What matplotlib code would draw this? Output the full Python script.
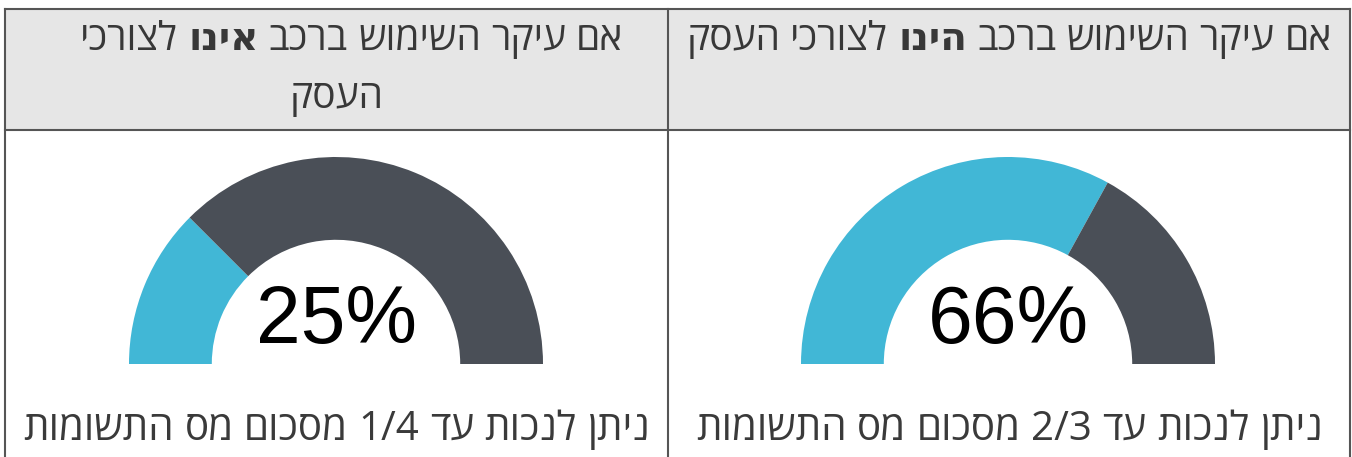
import matplotlib
matplotlib.use('Agg')
import matplotlib.pyplot as plt
from matplotlib.patches import Rectangle

# table content, columns in left-to-right order as seen on the page
head_pre = ["אם עיקר השימוש ברכב", "אם עיקר השימוש ברכב"]
head_bold = ["אינו", "הינו"]
head_post = ["לצורכי העסק", "לצורכי העסק"]
percent = [25, 66]
fraction = ["1/4", "2/3"]
foot_text = "ניתן לנכות עד {} מסכום מס התשומות"

BLUE = '#41b7d6'
DARK = '#4a4f57'
HEAD_BG = '#e6e6e6'
BORDER = '#555555'
TXT = '#383838'

W, H = 1352, 457
fig = plt.figure(figsize=(W / 100, H / 100), dpi=100)
ax = fig.add_axes([0, 0, 1, 1])
ax.set_xlim(0, W)
ax.set_ylim(H, 0)
ax.axis('off')
renderer = fig.canvas.get_renderer()

# table frame (pixel coords)
left, right, top, mid, hbot = 5, 1350, 9, 668, 130
ax.add_patch(Rectangle((left, top), right - left, hbot - top, facecolor=HEAD_BG, edgecolor='none'))
ax.plot([left, right], [top, top], color=BORDER, lw=1.5)
ax.plot([left, right], [hbot, hbot], color=BORDER, lw=1.5)
for xx in (left, mid, right):
    ax.plot([xx, xx], [top, H], color=BORDER, lw=1.5)

cell_c = [(left + mid) / 2, (mid + right) / 2]
max_w = [600, 660]


def is_heb(s):
    return any('\u0590' <= c <= '\u05ff' for c in s)


def vis(word):
    # matplotlib has no bidi support: flip hebrew words by hand
    return word[::-1] if is_heb(word) else word


def width(word, size, family, bold):
    t = ax.text(0, 0, vis(word), fontsize=size, family=family,
                fontweight='bold' if bold else 'normal')
    w = t.get_window_extent(renderer).width
    t.remove()
    return w


def rtl_lines(words, xc, y0, lh, size, color, family, maxw):
    space = 0.26 * size * 100 / 72
    ws = [width(w, size, family, b) for w, b in words]
    lines, cur, cw = [], [], 0
    for (w, b), wd in zip(words, ws):
        add = wd if not cur else wd + space
        if cur and cw + add > maxw:
            lines.append(cur)
            cur, cw = [], 0
            add = wd
        cur.append((w, b, wd))
        cw += add
    lines.append(cur)
    for k, line in enumerate(lines):
        total = sum(l[2] for l in line) + space * (len(line) - 1)
        if k < len(lines) - 1:
            total += 3 * space   # wrapped line keeps its trailing space on the left
        x = xc + total / 2
        for w, b, wd in line:
            ax.text(x, y0 + k * lh, vis(w), ha='right', va='baseline', fontsize=size,
                    family=family, color=color, fontweight='bold' if b else 'normal')
            x -= wd + space


fam = ['Open Sans', 'DejaVu Sans']
for i in range(2):
    words = [(w, False) for w in head_pre[i].split()] + [(head_bold[i], True)] + \
            [(w, False) for w in head_post[i].split()]
    rtl_lines(words, cell_c[i], 50, 58, 28, TXT, fam, max_w[i])

    foot_words = [(w, False) for w in foot_text.format(fraction[i]).split()]
    rtl_lines(foot_words, cell_c[i], 440, 40, 29, '#3a3a3a', fam, 2000)

# gauges
gauge_cx = [336, 1008]
cy, r = 364, 207
for i, p in enumerate(percent):
    cx = gauge_cx[i]
    gax = fig.add_axes([(cx - r) / W, (H - cy - r) / H, 2 * r / W, 2 * r / H])
    gax.pie([p, 100 - p, 100], colors=[BLUE, DARK, 'none'], startangle=180,
            counterclock=False, radius=1, wedgeprops=dict(width=0.4, linewidth=0))
    gax.set_xlim(-1, 1)
    gax.set_ylim(-1, 1)
    gax.axis('off')
    ax.text(cx, 343, '%d%%' % p, ha='center', va='baseline', fontsize=58,
            family='Liberation Sans', color='black')

fig.savefig('out.png', dpi=100)
